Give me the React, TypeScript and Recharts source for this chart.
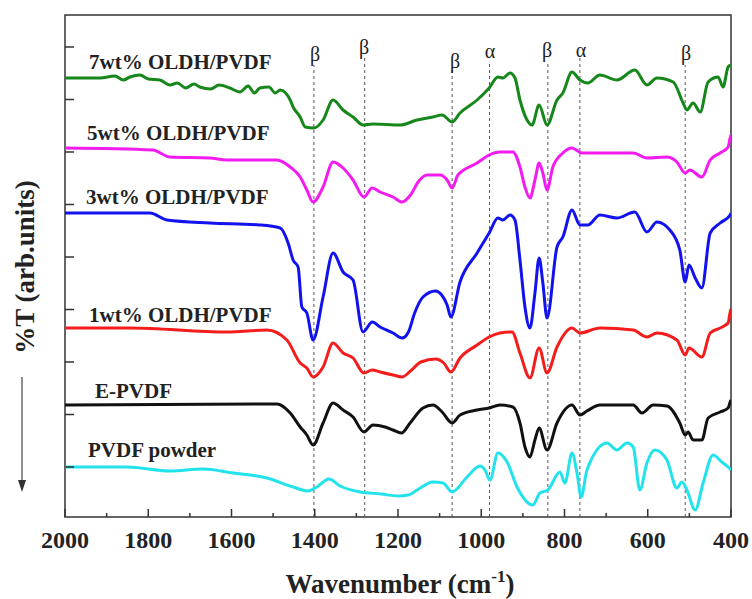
import { LineChart, Line, XAxis, YAxis, ReferenceLine, ReferenceArea } from "recharts";

// FTIR spectra, stacked — %T in arbitrary units, wavenumber axis reversed

const xTicks = [2000, 1900, 1800, 1700, 1600, 1500, 1400, 1300, 1200, 1100, 1000, 900, 800, 700, 600, 500, 400];
const yTicks = [50, 102.5, 155, 207.5, 260, 312.5, 365, 417.5, 470];

// [wavenumber, %T]
const oldh7 = [
  [2000, 439], [1916, 439], [1880, 441], [1860, 437], [1844, 440], [1820, 442], [1800, 438], [1772, 437],
  [1748, 432], [1730, 434], [1710, 429], [1690, 433], [1676, 430], [1650, 428], [1630, 432], [1604, 429],
  [1580, 425], [1560, 431], [1545, 424], [1532, 429], [1510, 430], [1495, 424], [1483, 427], [1459, 417],
  [1452, 410], [1435, 400], [1423, 390], [1402, 389], [1380, 397], [1356, 417], [1332, 407], [1308, 400],
  [1284, 392], [1260, 393], [1195, 392], [1154, 397], [1116, 400], [1094, 402], [1070, 395], [1051, 404],
  [1010, 417], [981, 429], [960, 440], [948, 439], [931, 444], [919, 439], [907, 417], [890, 397],
  [878, 392], [861, 412], [842, 392], [818, 417], [804, 424], [782, 445], [763, 437], [744, 434],
  [715, 442], [674, 437], [631, 447], [602, 432], [578, 439], [539, 435], [515, 414], [506, 407],
  [491, 414], [474, 405], [455, 435], [431, 440], [419, 430], [407, 450], [400, 452],
];

const oldh5 = [
  [2000, 369], [1789, 367], [1748, 360], [1652, 359], [1611, 357], [1491, 357], [1459, 350], [1435, 340],
  [1419, 327], [1404, 315], [1380, 330], [1356, 355], [1332, 349], [1308, 337], [1282, 320], [1262, 329],
  [1243, 325], [1212, 320], [1190, 315], [1170, 322], [1150, 336], [1130, 342], [1099, 342], [1082, 337],
  [1070, 329], [1056, 342], [1010, 354], [981, 362], [955, 365], [924, 365], [907, 350], [895, 330],
  [883, 319], [871, 337], [861, 354], [852, 344], [842, 327], [828, 350], [804, 364], [782, 369],
  [758, 364], [715, 364], [635, 364], [602, 359], [554, 360], [530, 355], [510, 344], [499, 347],
  [470, 340], [450, 357], [426, 364], [407, 370], [402, 379], [400, 382],
];

const oldh3 = [
  [2000, 304], [1796, 304], [1755, 297], [1652, 294], [1532, 292], [1483, 289], [1464, 274], [1452, 257],
  [1440, 250], [1431, 210], [1419, 204], [1404, 177], [1380, 220], [1356, 264], [1332, 245], [1308, 237],
  [1284, 185], [1262, 195], [1243, 190], [1212, 184], [1190, 179], [1175, 185], [1160, 204], [1140, 220],
  [1110, 226], [1095, 222], [1082, 212], [1073, 200], [1051, 235], [1010, 264], [981, 284], [960, 299],
  [948, 297], [931, 302], [919, 297], [907, 257], [895, 210], [883, 189], [871, 224], [861, 259],
  [852, 234], [842, 199], [818, 270], [804, 280], [782, 307], [763, 292], [744, 292], [715, 302],
  [674, 299], [631, 305], [602, 285], [578, 295], [547, 287], [523, 267], [510, 235], [501, 252],
  [486, 239], [470, 229], [450, 284], [426, 294], [402, 302], [400, 304],
];

const oldh1 = [
  [2000, 189], [1844, 189], [1611, 185], [1515, 187], [1467, 177], [1435, 154], [1419, 149], [1404, 140],
  [1380, 150], [1356, 174], [1332, 164], [1308, 159], [1282, 144], [1262, 147], [1243, 145], [1212, 142],
  [1190, 140], [1170, 146], [1145, 155], [1110, 158], [1090, 154], [1073, 145], [1051, 159], [1010, 172],
  [981, 180], [955, 184], [926, 185], [907, 164], [883, 139], [861, 169], [842, 144], [818, 170],
  [782, 189], [763, 184], [715, 189], [635, 187], [602, 180], [578, 184], [530, 177], [510, 162],
  [501, 169], [470, 160], [450, 184], [426, 189], [407, 194], [402, 205], [400, 208],
];

const ePvdf = [
  [2000, 112], [1491, 113], [1459, 104], [1435, 90], [1419, 82], [1404, 72], [1380, 94], [1356, 114],
  [1332, 107], [1308, 100], [1282, 85], [1260, 92], [1231, 90], [1212, 87], [1192, 84], [1171, 94],
  [1140, 109], [1116, 112], [1094, 105], [1070, 94], [1051, 102], [1010, 107], [981, 109], [955, 112],
  [924, 110], [907, 94], [895, 70], [883, 60], [871, 77], [861, 89], [842, 67], [818, 94],
  [782, 112], [763, 102], [746, 106], [715, 112], [635, 112], [614, 104], [587, 112], [554, 111],
  [523, 94], [510, 82], [503, 85], [491, 77], [470, 77], [455, 99], [426, 105], [407, 109],
  [402, 115], [400, 117],
];

const pvdfPowder = [
  [2000, 50], [1851, 50], [1748, 46], [1668, 48], [1596, 44], [1515, 39], [1452, 30], [1416, 26],
  [1395, 30], [1366, 38], [1339, 31], [1291, 25], [1240, 23], [1200, 21], [1175, 22], [1154, 27],
  [1116, 35], [1092, 34], [1070, 25], [1034, 40], [1003, 51], [991, 47], [979, 37], [960, 64],
  [938, 55], [914, 30], [876, 12], [859, 24], [840, 27], [811, 45], [799, 34], [782, 64],
  [770, 44], [760, 20], [746, 47], [698, 74], [674, 67], [650, 74], [635, 70], [619, 27],
  [602, 54], [583, 67], [554, 57], [530, 29], [518, 35], [506, 27], [486, 7], [467, 34],
  [443, 62], [422, 55], [402, 48], [400, 47],
];

// band markers: wavenumber, phase, top of dashed line
const bands = [
  { w: 1402, phase: "β", top: 452 },
  { w: 1280, phase: "β", top: 459 },
  { w: 1070, phase: "β", top: 449 },
  { w: 980, phase: "α", top: 455 },
  { w: 840, phase: "β", top: 455 },
  { w: 763, phase: "α", top: 459 },
  { w: 510, phase: "β", top: 452 },
];

const series = [
  { name: "7wt% OLDH/PVDF", data: oldh7, color: "#16871a" },
  { name: "5wt% OLDH/PVDF", data: oldh5, color: "#f21cf0" },
  { name: "3wt% OLDH/PVDF", data: oldh3, color: "#1212ef" },
  { name: "1wt% OLDH/PVDF", data: oldh1, color: "#f51c1c" },
  { name: "E-PVDF", data: ePvdf, color: "#111111" },
  { name: "PVDF powder", data: pvdfPowder, color: "#22e3ec" },
];

const toPoints = (d: number[][]) => d.map(([w, v]) => ({ w, v }));

const serif = '"Liberation Serif", "Times New Roman", serif';
const ink = "#222";

function XTick({ x, y, payload }: any) {
  const major = payload.value % 200 === 0;
  return (
    <g>
      <line x1={x} x2={x} y1={y} y2={y - (major ? 8 : 4)} stroke="#333" strokeWidth={1.5} />
      {major && (
        <text x={x} y={y + 31} textAnchor="middle" fontFamily={serif} fontWeight="bold" fontSize={24} fill={ink}>
          {payload.value}
        </text>
      )}
    </g>
  );
}

function YTick({ x, y }: any) {
  return <line x1={x} x2={x + 9} y1={y} y2={y} stroke="#333" strokeWidth={1.5} />;
}

// pixel spots for the text overlay (plot: x 65..731, y 15..517)
const seriesLabels = [
  { text: "7wt% OLDH/PVDF", x: 89, y: 69 },
  { text: "5wt% OLDH/PVDF", x: 87, y: 140 },
  { text: "3wt% OLDH/PVDF", x: 86, y: 204 },
  { text: "1wt% OLDH/PVDF", x: 89, y: 322 },
  { text: "E-PVDF", x: 95, y: 398 },
  { text: "PVDF powder", x: 88, y: 457 },
];
const phaseLabels = [
  { x: 315, y: 61 }, { x: 364, y: 54 }, { x: 455, y: 68 }, { x: 490, y: 58 },
  { x: 547, y: 57 }, { x: 581, y: 57 }, { x: 686, y: 60 },
];

export default function App() {
  return (
    <div style={{ position: "absolute", left: 0, top: 0, width: 752, height: 599, background: "#fff" }}>
      <LineChart width={752} height={599} margin={{ top: 15, right: 21, left: 64, bottom: 0 }}>
        <XAxis
          type="number"
          dataKey="w"
          domain={[400, 2000]}
          reversed
          ticks={xTicks}
          interval={0}
          tickSize={0}
          tickMargin={0}
          tickLine={false}
          axisLine={false}
          height={82}
          tick={<XTick />}
          allowDataOverflow
        />
        <YAxis
          type="number"
          domain={[0, 502]}
          ticks={yTicks}
          interval={0}
          width={1}
          tickSize={0}
          tickMargin={0}
          tickLine={false}
          axisLine={false}
          tick={<YTick />}
          allowDataOverflow
        />
        {bands.map((b) => (
          <ReferenceLine
            key={b.w}
            segment={[{ x: b.w, y: 0 }, { x: b.w, y: b.top }]}
            stroke="#555"
            strokeWidth={1}
            strokeDasharray="3 3"
          />
        ))}
        {series.map((s) => (
          <Line
            key={s.name}
            data={toPoints(s.data)}
            dataKey="v"
            type="monotone"
            stroke={s.color}
            strokeWidth={3}
            dot={false}
            isAnimationActive={false}
          />
        ))}
        <ReferenceArea x1={2000} x2={400} y1={0} y2={502} fill="none" stroke="#333" strokeWidth={1.5} />
      </LineChart>
      <svg width={752} height={599} style={{ position: "absolute", left: 0, top: 0, pointerEvents: "none" }}>
        {seriesLabels.map((l) => (
          <text key={l.text} x={l.x} y={l.y} fontFamily={serif} fontWeight="bold" fontSize={21} fill={ink}>
            {l.text}
          </text>
        ))}
        {bands.map((b, i) => (
          <text key={b.w} x={phaseLabels[i].x} y={phaseLabels[i].y} textAnchor="middle" fontFamily={serif} fontSize={20} fill={ink}>
            {b.phase}
          </text>
        ))}
        <text x={400} y={593} textAnchor="middle" fontFamily={serif} fontWeight="bold" fontSize={27} fill={ink}>
          Wavenumber (cm
          <tspan fontSize={17} dy={-11}>-1</tspan>
          <tspan dy={11}>)</tspan>
        </text>
        <text
          transform="translate(34,267) rotate(-90)"
          textAnchor="middle"
          fontFamily={serif}
          fontWeight="bold"
          fontSize={27}
          fill={ink}
        >
          %T (arb.units)
        </text>
        <line x1={22} x2={22} y1={377} y2={482} stroke="#444" strokeWidth={1.2} />
        <path d="M18,480 L26,480 L22,492 Z" fill="#333" />
      </svg>
    </div>
  );
}
